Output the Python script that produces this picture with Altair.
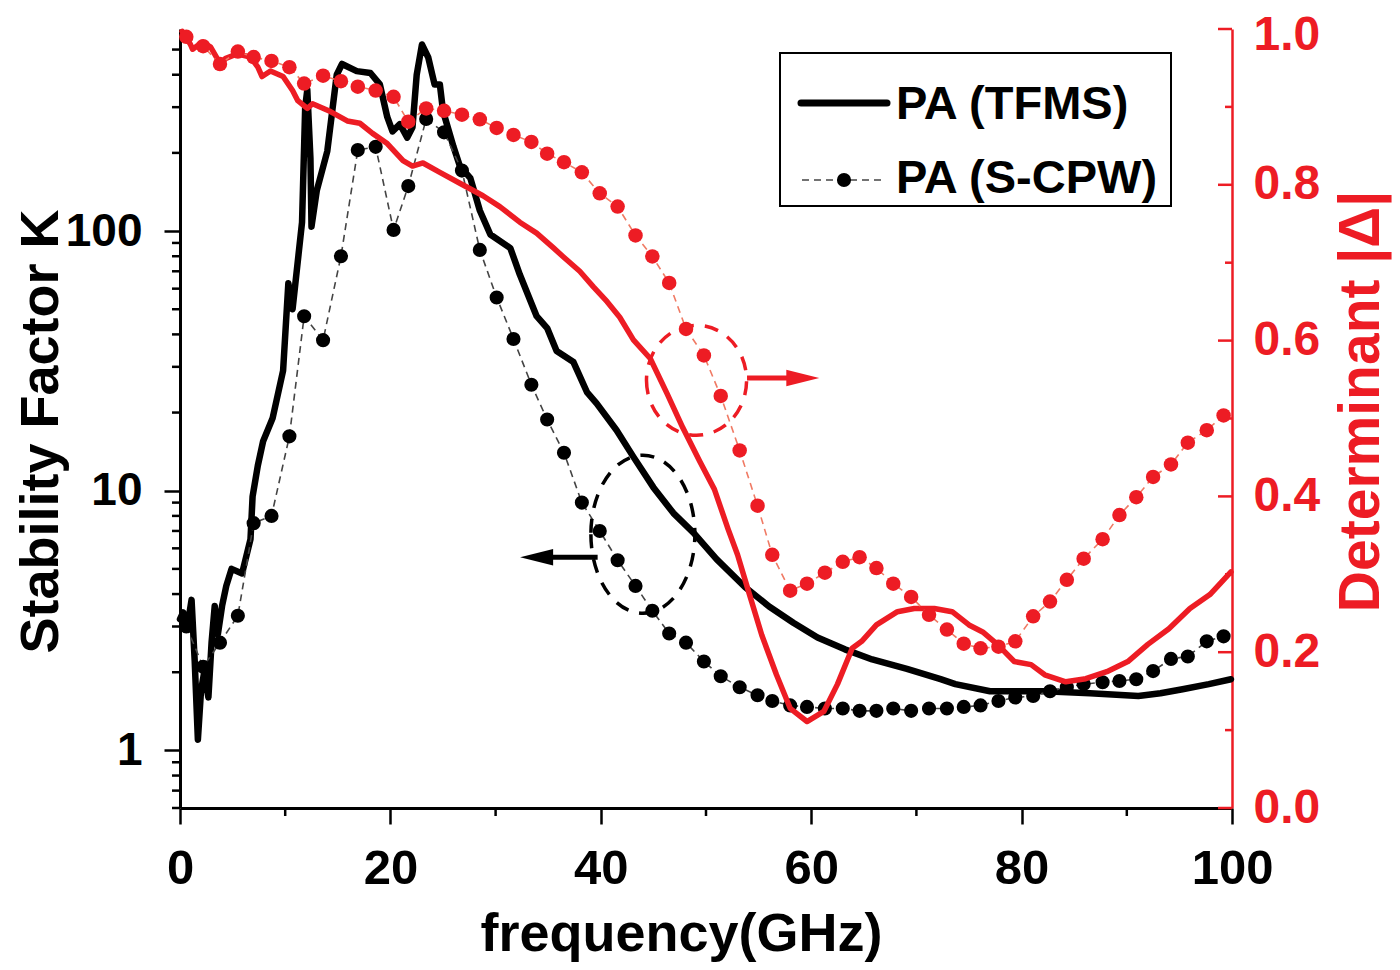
import altair as alt
import pandas as pd

FONT = "Liberation Sans"
RED = "#ed1c24"
RED_DASH = "#f07a64"
W, H = 1052, 779

# ---------------- data ----------------
# PA (TFMS): stability factor K (left axis)
tfms_f = [0.0, 0.3, 0.7, 1.1, 1.4, 1.7, 2.0, 2.3, 2.7, 3.0,
          3.3, 3.6, 4.0, 4.4, 4.9, 5.9, 6.7, 6.9, 7.4, 7.9,
          8.8, 9.8, 10.3, 10.7, 11.6, 11.9, 12.1, 12.4, 12.5, 13.0,
          14.0, 14.9, 15.4, 16.8, 18.1, 19.0, 19.7, 20.2, 20.9, 21.6,
          22.1, 22.5, 23.0, 23.6, 24.2, 24.7, 25.0, 26.0, 26.6, 27.6,
          28.5, 29.5, 31.4, 32.3, 33.9, 34.9, 35.8, 37.4, 38.7, 39.6,
          41.5, 43.1, 45.0, 46.9, 48.8, 51.0, 53.7, 56.0, 58.3, 60.6,
          63.2, 65.8, 69.1, 72.3, 73.7, 77.0, 82.2, 86.5, 91.1, 93.2,
          95.3, 97.8, 99.9]
tfms_k = [3.2, 3.4, 3.0, 3.8, 2.2, 1.1, 1.7, 2.0, 1.6, 2.6,
          3.6, 2.8, 3.6, 4.3, 5.0, 4.8, 6.5, 9.5, 12.5, 15.5,
          19, 29, 63, 50, 108, 300, 350, 190, 104, 143,
          203, 400, 440, 413, 406, 367, 275, 242, 258, 229,
          251, 400, 523, 466, 367, 367, 290, 211, 178, 160,
          120, 97, 86, 68, 47, 42.3, 34.5, 31.3, 23.9, 21.7,
          17.1, 13.5, 10.3, 8.2, 6.9, 5.45, 4.26, 3.58, 3.1, 2.72,
          2.45, 2.24, 2.06, 1.88, 1.80, 1.69, 1.69, 1.66, 1.62, 1.66,
          1.72, 1.80, 1.88]

# PA (TFMS): determinant |Delta| (right axis)
tfms_det_f = [0.2, 1.0, 1.2, 2.1, 2.9, 3.5, 3.8, 4.3, 5.4, 6.7,
              7.4, 7.8, 8.6, 9.8, 10.7, 11.2, 12.1, 12.6, 14.3, 15.9,
              17.1, 18.3, 19.7, 21.2, 22.1, 23.1, 24.7, 26.6, 28.8, 30.4,
              32.3, 33.9, 35.5, 36.4, 38.0, 39.3, 40.6, 41.8, 43.1, 44.7,
              46.3, 47.8, 49.4, 50.8, 52.1, 53.0, 54.0, 55.3, 56.7, 58.0,
              59.6, 61.2, 62.5, 63.9, 64.8, 66.2, 68.2, 69.8, 71.7, 73.4,
              75.0, 76.3, 77.7, 79.3, 80.9, 82.2, 84.2, 86.1, 88.1, 90.1,
              92.0, 94.0, 96.0, 97.9, 99.0, 99.9]
tfms_det_d = [0.997, 0.980, 0.974, 0.983, 0.977, 0.963, 0.951, 0.962, 0.968, 0.964,
              0.951, 0.939, 0.946, 0.939, 0.921, 0.908, 0.898, 0.904, 0.894, 0.882,
              0.879, 0.866, 0.853, 0.831, 0.824, 0.828, 0.816, 0.802, 0.786, 0.772,
              0.752, 0.738, 0.719, 0.708, 0.689, 0.669, 0.650, 0.630, 0.601, 0.577,
              0.532, 0.488, 0.445, 0.409, 0.358, 0.325, 0.280, 0.222, 0.171, 0.128,
              0.111, 0.124, 0.159, 0.205, 0.214, 0.235, 0.252, 0.256, 0.256, 0.252,
              0.235, 0.226, 0.210, 0.188, 0.184, 0.171, 0.162, 0.166, 0.175, 0.188,
              0.210, 0.230, 0.256, 0.274, 0.290, 0.303]

# PA (S-CPW): sampled points (shared frequencies)
scpw_f = [0.6, 2.2, 3.8, 5.5, 7.0, 8.7, 10.4, 11.8, 13.6, 15.3,
          16.9, 18.6, 20.3, 21.7, 23.4, 25.1, 26.8, 28.5, 30.1, 31.7,
          33.4, 34.9, 36.5, 38.2, 39.9, 41.6, 43.3, 44.9, 46.5, 48.1,
          49.8, 51.4, 53.2, 54.9, 56.3, 58.0, 59.6, 61.3, 63.0, 64.6,
          66.2, 67.8, 69.5, 71.2, 72.9, 74.5, 76.1, 77.8, 79.4, 81.1,
          82.7, 84.3, 85.9, 87.7, 89.3, 90.9, 92.5, 94.2, 95.8, 97.6,
          99.2]
scpw_k = [3.0, 2.1, 2.6, 3.3, 7.5, 8.0, 16.2, 47, 38, 80,
          205, 211, 101, 149, 270, 240, 171, 84.6, 55.5, 38.4,
          25.6, 18.8, 14.0, 9.0, 7.0, 5.4, 4.3, 3.45, 2.82, 2.6,
          2.2, 1.93, 1.75, 1.63, 1.55, 1.49, 1.47, 1.45, 1.45, 1.42,
          1.42, 1.45, 1.42, 1.45, 1.45, 1.47, 1.49, 1.55, 1.60, 1.62,
          1.69, 1.75, 1.80, 1.83, 1.85, 1.88, 2.02, 2.25, 2.30, 2.63,
          2.75]
scpw_det = [0.990, 0.978, 0.955, 0.971, 0.964, 0.959, 0.951, 0.930, 0.940, 0.933,
            0.926, 0.921, 0.913, 0.881, 0.898, 0.895, 0.890, 0.884, 0.873, 0.864,
            0.855, 0.840, 0.829, 0.816, 0.789, 0.772, 0.735, 0.708, 0.674, 0.615,
            0.581, 0.529, 0.459, 0.388, 0.325, 0.279, 0.288, 0.302, 0.316, 0.322,
            0.308, 0.288, 0.271, 0.248, 0.229, 0.211, 0.205, 0.207, 0.214, 0.246,
            0.265, 0.293, 0.320, 0.345, 0.376, 0.399, 0.425, 0.441, 0.469, 0.485,
            0.504]

# axis ticks
x_major = [0, 20, 40, 60, 80, 100]
x_minor = [10, 30, 50, 70, 90]
k_major = [1, 10, 100]
k_minor = [0.6, 0.7, 0.8, 0.9, 2, 3, 4, 5, 6, 7, 8, 9,
           20, 30, 40, 50, 60, 70, 80, 90, 200, 300, 400, 500]
d_major = [0.0, 0.2, 0.4, 0.6, 0.8, 1.0]
d_minor = [0.1, 0.3, 0.5, 0.7, 0.9]

# annotations (data coordinates)
black_ring_f, black_ring_k = [44.0], [6.8]
black_arrow_f1, black_arrow_f2, black_arrow_k = [39.7], [34.2], [5.55]
black_head_f = [33.9]
red_ring_f, red_ring_d = [49.1], [0.549]
red_arrow_f1, red_arrow_f2, red_arrow_d = [53.9], [58.8], [0.552]
red_head_f = [59.2]

legend_labels = ["PA (TFMS)", "PA (S-CPW)"]

# ---------------- scales / axes ----------------
xs = alt.Scale(domain=[0, 100], nice=False, zero=False)
ks = alt.Scale(type="log", domain=[0.6, 600], nice=False)
ds = alt.Scale(domain=[0, 1], nice=False, zero=False)

x_axis = alt.Axis(
    values=x_major, title="frequency(GHz)", grid=False,
    domainColor="black", domainWidth=3, tickColor="black", tickWidth=2.5, tickSize=16,
    labelFont=FONT, labelFontSize=49, labelFontWeight="bold", labelColor="black",
    labelPadding=20, labelFlush=False, labelOverlap=False,
    titleFont=FONT, titleFontSize=54, titleFontWeight="bold", titleColor="black",
    titleX=501, titleY=142, titleBaseline="alphabetic", titleAlign="center",
)
k_axis = alt.Axis(
    orient="left", values=k_major, format="d", title="Stability Factor K", grid=False,
    domainColor="black", domainWidth=3, tickColor="black", tickWidth=2.5, tickSize=16,
    labelFont=FONT, labelFontSize=46, labelFontWeight="bold", labelColor="black",
    labelPadding=22, labelFlush=False, labelOverlap=False,
    titleFont=FONT, titleFontSize=54, titleFontWeight="bold", titleColor="black",
    titleAngle=270, titleX=-123, titleY=402, titleBaseline="alphabetic", titleAlign="center",
)
d_axis = alt.Axis(
    orient="right", values=d_major, format=".1f", title="Determinant |Δ|", grid=False,
    domainColor=RED, domainWidth=2.5, tickColor=RED, tickWidth=2, tickSize=0,
    labelFont=FONT, labelFontSize=48, labelFontWeight="bold", labelColor=RED,
    labelPadding=21, labelFlush=False, labelOverlap=False,
    labelOffset={"condition": {"test": "datum.value >= 1", "value": 6}, "value": 0},
    titleFont=FONT, titleFontSize=57, titleFontWeight="bold", titleColor=RED,
    titleAngle=270, titleX=146, titleY=372, titleBaseline="alphabetic", titleAlign="center",
)

X = lambda fld: alt.X(fld, scale=xs, axis=x_axis)
YK = lambda fld: alt.Y(fld, scale=ks, axis=k_axis)
YD = lambda fld: alt.Y(fld, scale=ds, axis=d_axis)

# ---------------- data frames ----------------
df_tfms = pd.DataFrame({"f": tfms_f, "K": tfms_k})
df_tfms_d = pd.DataFrame({"f": tfms_det_f, "D": tfms_det_d})
df_scpw = pd.DataFrame({"f": scpw_f, "K": scpw_k, "D": scpw_det})
df_kminor = pd.DataFrame({"K": k_minor})
df_xminor = pd.DataFrame({"f": x_minor})
df_dmajor = pd.DataFrame({"D": d_major})
df_dminor = pd.DataFrame({"D": d_minor})
df_bring = pd.DataFrame({"f": black_ring_f, "K": black_ring_k})
df_barrow = pd.DataFrame({"f": black_arrow_f1, "f2": black_arrow_f2, "K": black_arrow_k})
df_bhead = pd.DataFrame({"f": black_head_f, "K": black_arrow_k})
df_rring = pd.DataFrame({"f": red_ring_f, "D": red_ring_d})
df_rarrow = pd.DataFrame({"f": red_arrow_f1, "f2": red_arrow_f2, "D": red_arrow_d})
df_rhead = pd.DataFrame({"f": red_head_f, "D": red_arrow_d})
df_one = pd.DataFrame({"a": [0]})

BLACK_ELLIPSE = "M -0.658 0 A 0.658 1 0 1 0 0.658 0 A 0.658 1 0 1 0 -0.658 0 Z"
RED_ELLIPSE = "M -0.91 0 A 0.91 1 0 1 0 0.91 0 A 0.91 1 0 1 0 -0.91 0 Z"
HEAD_RIGHT = "M -1 -0.5 L 1 0 L -1 0.5 Z"
HEAD_LEFT = "M 1 -0.5 L -1 0 L 1 0.5 Z"

# ---------------- left (K) group ----------------
tfms_line = alt.Chart(df_tfms).mark_line(
    color="black", strokeWidth=6.5, strokeJoin="round", strokeCap="round"
).encode(x=X("f:Q"), y=YK("K:Q"))
scpw_line = alt.Chart(df_scpw).mark_line(
    color="#444444", strokeWidth=1.6, strokeDash=[7, 5]
).encode(x=X("f:Q"), y=YK("K:Q"))
scpw_pts = alt.Chart(df_scpw).mark_circle(
    color="black", size=200, opacity=1
).encode(x=X("f:Q"), y=YK("K:Q"))
b_ring = alt.Chart(df_bring).mark_point(
    shape=BLACK_ELLIPSE, size=24964, filled=False, color="black",
    strokeWidth=3.5, strokeDash=[14, 11], opacity=1
).encode(x=X("f:Q"), y=YK("K:Q"))
b_arrow = alt.Chart(df_barrow).mark_rule(color="black", strokeWidth=5).encode(
    x=X("f:Q"), x2="f2:Q", y=YK("K:Q"))
b_head = alt.Chart(df_bhead).mark_point(
    shape=HEAD_LEFT, size=1089, filled=True, color="black", opacity=1
).encode(x=X("f:Q"), y=YK("K:Q"))
k_minor_ticks = alt.Chart(df_kminor).mark_rule(color="black", strokeWidth=2.5).encode(
    y=YK("K:Q"), x=alt.value(-8), x2=alt.value(0))
x_minor_ticks = alt.Chart(df_xminor).mark_rule(color="black", strokeWidth=2.5).encode(
    x=X("f:Q"), y=alt.value(H), y2=alt.value(H + 8))
left = alt.layer(tfms_line, scpw_line, scpw_pts, b_ring, b_arrow, b_head,
                 k_minor_ticks, x_minor_ticks)

# ---------------- right (Delta) group ----------------
tfms_d_line = alt.Chart(df_tfms_d).mark_line(
    color=RED, strokeWidth=5.5, strokeJoin="round", strokeCap="round"
).encode(x=X("f:Q"), y=YD("D:Q"))
scpw_d_line = alt.Chart(df_scpw).mark_line(
    color=RED_DASH, strokeWidth=1.6, strokeDash=[7, 5]
).encode(x=X("f:Q"), y=YD("D:Q"))
scpw_d_pts = alt.Chart(df_scpw).mark_circle(
    color=RED, size=210, opacity=1
).encode(x=X("f:Q"), y=YD("D:Q"))
r_ring = alt.Chart(df_rring).mark_point(
    shape=RED_ELLIPSE, size=12100, filled=False, color=RED,
    strokeWidth=3.5, strokeDash=[14, 11], opacity=1
).encode(x=X("f:Q"), y=YD("D:Q"))
r_arrow = alt.Chart(df_rarrow).mark_rule(color=RED, strokeWidth=5).encode(
    x=X("f:Q"), x2="f2:Q", y=YD("D:Q"))
r_head = alt.Chart(df_rhead).mark_point(
    shape=HEAD_RIGHT, size=1089, filled=True, color=RED, opacity=1
).encode(x=X("f:Q"), y=YD("D:Q"))
d_major_ticks = alt.Chart(df_dmajor).mark_rule(color=RED, strokeWidth=2.5).encode(
    y=YD("D:Q"), x=alt.value(W - 14), x2=alt.value(W))
d_minor_ticks = alt.Chart(df_dminor).mark_rule(color=RED, strokeWidth=2.5).encode(
    y=YD("D:Q"), x=alt.value(W - 7), x2=alt.value(W))
right = alt.layer(tfms_d_line, scpw_d_line, scpw_d_pts, r_ring, r_arrow, r_head,
                  d_major_ticks, d_minor_ticks)

# ---------------- legend (drawn in plot pixel space) ----------------
leg_box = alt.Chart(df_one).mark_rect(fill="white", stroke="black", strokeWidth=2).encode(
    x=alt.value(600), x2=alt.value(991), y=alt.value(24), y2=alt.value(177))
leg_l1 = alt.Chart(df_one).mark_rule(color="black", strokeWidth=7, strokeCap="round").encode(
    x=alt.value(621), x2=alt.value(707), y=alt.value(74))
leg_l2 = alt.Chart(df_one).mark_rule(color="#444444", strokeWidth=1.6, strokeDash=[7, 5]).encode(
    x=alt.value(622), x2=alt.value(704), y=alt.value(151))
leg_dot = alt.Chart(df_one).mark_circle(color="black", size=200, opacity=1).encode(
    x=alt.value(664), y=alt.value(151))
leg_t1 = alt.Chart(df_one).mark_text(
    text=legend_labels[0], font=FONT, fontSize=47, fontWeight="bold",
    align="left", baseline="alphabetic", color="black"
).encode(x=alt.value(716), y=alt.value(90))
leg_t2 = alt.Chart(df_one).mark_text(
    text=legend_labels[1], font=FONT, fontSize=47, fontWeight="bold",
    align="left", baseline="alphabetic", color="black"
).encode(x=alt.value(716), y=alt.value(164))
legend = alt.layer(leg_box, leg_l1, leg_l2, leg_dot, leg_t1, leg_t2)

chart = alt.layer(left, right, legend).resolve_scale(y="independent").properties(
    width=W, height=H,
    padding={"left": 172, "top": 21, "right": 160, "bottom": 154},
    autosize=alt.AutoSizeParams(type="none"),
    background="white",
).configure_view(strokeWidth=0)

chart.save("out.html", embed_options={"renderer": "svg", "actions": False})
